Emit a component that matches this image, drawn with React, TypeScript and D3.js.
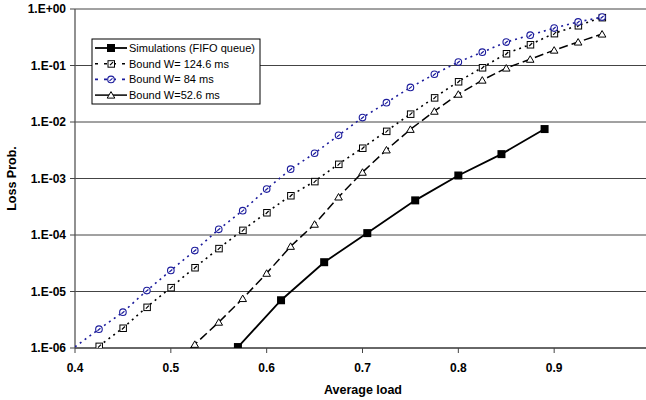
import React from 'react';
import * as d3 from 'd3';

const width = 646;
const height = 400;
const margin = { left: 75, top: 9, right: 650, bottom: 348 };

// simulations (FIFO queue)
const loadSim = [0.57, 0.615, 0.66, 0.705, 0.755, 0.8, 0.845, 0.89];
const probSim = [1.04e-6, 7.0e-6, 3.3e-5, 1.08e-4, 4.1e-4, 1.13e-3, 2.7e-3, 7.5e-3];

// bound W = 124.6 ms
const loadW124 = [0.425, 0.45, 0.475, 0.5, 0.525, 0.55, 0.575, 0.6, 0.625, 0.65, 0.675, 0.7, 0.725, 0.75, 0.775, 0.8, 0.825, 0.85, 0.875, 0.9, 0.925, 0.95];
const probW124 = [1.08e-6, 2.26e-6, 5.3e-6, 1.18e-5, 2.66e-5, 5.8e-5, 1.22e-4, 2.5e-4, 5.0e-4, 8.9e-4, 1.8e-3, 3.47e-3, 6.9e-3, 1.39e-2, 2.7e-2, 5.2e-2, 9.2e-2, 0.163, 0.235, 0.37, 0.51, 0.71];

// bound W = 84 ms
const loadW84 = [0.4, 0.425, 0.45, 0.475, 0.5, 0.525, 0.55, 0.575, 0.6, 0.625, 0.65, 0.675, 0.7, 0.725, 0.75, 0.775, 0.8, 0.825, 0.85, 0.875, 0.9, 0.925, 0.95];
const probW84 = [1.05e-6, 2.15e-6, 4.3e-6, 1.04e-5, 2.36e-5, 5.3e-5, 1.26e-4, 2.7e-4, 6.5e-4, 1.46e-3, 2.8e-3, 5.8e-3, 1.2e-2, 2.2e-2, 4.1e-2, 7.0e-2, 0.115, 0.172, 0.26, 0.344, 0.46, 0.59, 0.72];

// bound W = 52.6 ms
const loadW52 = [0.5, 0.525, 0.55, 0.575, 0.6, 0.625, 0.65, 0.675, 0.7, 0.725, 0.75, 0.775, 0.8, 0.825, 0.85, 0.875, 0.9, 0.925, 0.95];
const probW52 = [5e-7, 1.16e-6, 2.86e-6, 7.5e-6, 2.1e-5, 6.3e-5, 1.55e-4, 4.7e-4, 1.29e-3, 3.2e-3, 7.4e-3, 1.55e-2, 3.1e-2, 5.5e-2, 9.0e-2, 0.129, 0.187, 0.26, 0.36];

const xTicks = [0.4, 0.5, 0.6, 0.7, 0.8, 0.9];
const yTicks = [1e0, 1e-1, 1e-2, 1e-3, 1e-4, 1e-5, 1e-6];
const yTickLabels = ['1.E+00', '1.E-01', '1.E-02', '1.E-03', '1.E-04', '1.E-05', '1.E-06'];

const legendLabels = ['Simulations (FIFO queue)', 'Bound W= 124.6 ms', 'Bound W= 84 ms', 'Bound W=52.6 ms'];

const blue = '#1c1c9c';
const font = 'Liberation Sans, Arial, sans-serif';

const x = d3.scaleLinear().domain([0.4, 1.0]).range([margin.left, margin.right]);
const y = d3.scaleLog().domain([1e-6, 1]).range([margin.bottom, margin.top]);

const lineGen = d3.line<[number, number]>()
  .x(d => x(d[0]))
  .y(d => y(d[1]));

const zip = (xs: number[], ys: number[]): [number, number][] => xs.map((v, i) => [v, ys[i]]);

const series = [
  { key: 'sim', pts: zip(loadSim, probSim), color: '#000', dash: undefined, width: 1.8, marker: 'fsquare' },
  { key: 'w124', pts: zip(loadW124, probW124), color: '#000', dash: '2,4', width: 1.6, marker: 'square' },
  { key: 'w84', pts: zip(loadW84, probW84), color: blue, dash: '2,4', width: 1.6, marker: 'circle' },
  { key: 'w52', pts: zip(loadW52, probW52), color: '#000', dash: '9,4', width: 1.5, marker: 'triangle' },
];

const Marker = ({ type, cx, cy, color }: { type: string; cx: number; cy: number; color: string }) => {
  if (type === 'fsquare') {
    return <rect x={cx - 4} y={cy - 4} width={8} height={8} fill="#000" />;
  }
  if (type === 'square') {
    return (
      <g>
        <rect x={cx - 3} y={cy - 3} width={6.5} height={6.5} fill="#fff" stroke="#000" strokeWidth={1} />
        <path d={`M${cx - 1},${cy + 1.5} L${cx + 2},${cy - 1.5}`} stroke="#000" strokeWidth={1.2} />
      </g>
    );
  }
  if (type === 'circle') {
    return (
      <g>
        <circle cx={cx} cy={cy} r={3.3} fill="#fff" stroke={color} strokeWidth={1.1} />
        <path d={`M${cx - 1.5},${cy + 1.5} L${cx + 1.5},${cy - 1}`} stroke={color} strokeWidth={1.2} />
      </g>
    );
  }
  return (
    <path
      d={`M${cx},${cy - 3.5} L${cx + 3.8},${cy + 3} L${cx - 3.8},${cy + 3} Z`}
      fill="#fff"
      stroke="#000"
      strokeWidth={1}
    />
  );
};

const App = () => {
  const legendX = 92;
  const legendY = 39;
  const rowH = 15.7;

  return (
    <svg width={width} height={height} style={{ position: 'absolute', left: 0, top: 0, background: '#fff' }}>
      <defs>
        <clipPath id="plotClip">
          <rect x={margin.left} y={margin.top - 6} width={margin.right - margin.left} height={margin.bottom - margin.top + 6} />
        </clipPath>
      </defs>

      {/* gridlines */}
      {yTicks.map(t => (
        <line key={t} x1={margin.left} x2={margin.right} y1={y(t)} y2={y(t)} stroke="#444" strokeWidth={1} />
      ))}

      {/* axes */}
      <line x1={margin.left} x2={margin.left} y1={margin.top} y2={margin.bottom} stroke="#555" strokeWidth={1.3} />
      <line x1={margin.left} x2={margin.right} y1={margin.bottom} y2={margin.bottom} stroke="#555" strokeWidth={1.3} />

      {yTicks.map((t, i) => (
        <g key={t}>
          <line x1={margin.left - 5} x2={margin.left} y1={y(t)} y2={y(t)} stroke="#444" />
          <text x={66} y={y(t) + 4} textAnchor="end" fontFamily={font} fontWeight="bold" fontSize={12}>
            {yTickLabels[i]}
          </text>
        </g>
      ))}
      {xTicks.map(t => (
        <g key={t}>
          <line x1={x(t)} x2={x(t)} y1={margin.bottom} y2={margin.bottom + 5} stroke="#444" />
          <text x={x(t)} y={372} textAnchor="middle" fontFamily={font} fontWeight="bold" fontSize={12}>
            {t.toFixed(1)}
          </text>
        </g>
      ))}

      <text x={363} y={394} textAnchor="middle" fontFamily={font} fontWeight="bold" fontSize={12.5}>
        Average load
      </text>
      <text
        transform={`translate(16, ${(margin.top + margin.bottom) / 2}) rotate(-90)`}
        textAnchor="middle"
        fontFamily={font}
        fontWeight="bold"
        fontSize={12.5}
      >
        Loss Prob.
      </text>

      {/* lines */}
      <g clipPath="url(#plotClip)">
        {series.map(s => (
          <path key={s.key} d={lineGen(s.pts) || ''} fill="none" stroke={s.color} strokeWidth={s.width} strokeDasharray={s.dash} />
        ))}
        {series.map(s =>
          s.pts
            .filter(p => p[0] > 0.4 && p[1] >= 1e-6)
            .map((p, i) => <Marker key={s.key + i} type={s.marker} cx={x(p[0])} cy={y(p[1])} color={s.color} />)
        )}
      </g>

      {/* legend */}
      <rect x={legendX} y={legendY} width={168} height={65} fill="#fff" stroke="#000" strokeWidth={1} />
      {series.map((s, i) => {
        const cy = legendY + 9 + i * rowH;
        const dash = s.key === 'w52' ? undefined : s.dash === '2,4' ? '3,6' : undefined;
        return (
          <g key={s.key}>
            <line x1={legendX + 3} x2={legendX + 35} y1={cy} y2={cy} stroke={s.color} strokeWidth={s.width} strokeDasharray={dash} />
            <Marker type={s.marker} cx={legendX + 19} cy={cy} color={s.color} />
            <text x={legendX + 37} y={cy + 4} fontFamily={font} fontSize={11}>
              {legendLabels[i]}
            </text>
          </g>
        );
      })}
    </svg>
  );
};

export default App;
